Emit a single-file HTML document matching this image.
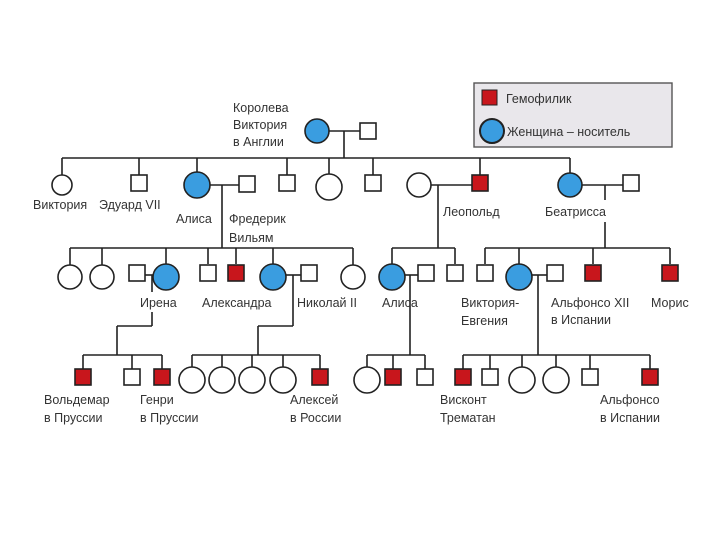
<!DOCTYPE html>
<html><head><meta charset="utf-8"><style>
html,body{margin:0;padding:0;background:#fff;width:720px;height:540px;overflow:hidden}
svg text{font-family:"Liberation Sans","DejaVu Sans",sans-serif;font-size:12.5px;fill:#333}
</style></head><body>
<svg width="720" height="540" viewBox="0 0 720 540" xmlns="http://www.w3.org/2000/svg">
<g stroke="#222" stroke-width="1.6" fill="none">
<line x1="329" y1="131" x2="360" y2="131"/>
<line x1="344" y1="131" x2="344" y2="158"/>
<line x1="62" y1="158" x2="570" y2="158"/>
<line x1="62" y1="158" x2="62" y2="175"/>
<line x1="139" y1="158" x2="139" y2="175"/>
<line x1="197" y1="158" x2="197" y2="172"/>
<line x1="287" y1="158" x2="287" y2="175"/>
<line x1="329" y1="158" x2="329" y2="174"/>
<line x1="373" y1="158" x2="373" y2="175"/>
<line x1="480" y1="158" x2="480" y2="175"/>
<line x1="570" y1="158" x2="570" y2="173"/>
<line x1="210" y1="185" x2="239" y2="185"/>
<line x1="222" y1="185" x2="222" y2="248"/>
<line x1="70" y1="248" x2="353" y2="248"/>
<line x1="431" y1="185" x2="472" y2="185"/>
<line x1="438" y1="185" x2="438" y2="248"/>
<line x1="392" y1="248" x2="455" y2="248"/>
<line x1="582" y1="185" x2="623" y2="185"/>
<line x1="605" y1="185" x2="605" y2="200"/>
<line x1="605" y1="222" x2="605" y2="248"/>
<line x1="485" y1="248" x2="670" y2="248"/>
<line x1="70" y1="248" x2="70" y2="265"/>
<line x1="102" y1="248" x2="102" y2="265"/>
<line x1="166" y1="248" x2="166" y2="264"/>
<line x1="208" y1="248" x2="208" y2="264"/>
<line x1="236" y1="248" x2="236" y2="264"/>
<line x1="273" y1="248" x2="273" y2="264"/>
<line x1="353" y1="248" x2="353" y2="265"/>
<line x1="392" y1="248" x2="392" y2="264"/>
<line x1="455" y1="248" x2="455" y2="264"/>
<line x1="485" y1="248" x2="485" y2="264"/>
<line x1="519" y1="248" x2="519" y2="264"/>
<line x1="593" y1="248" x2="593" y2="264"/>
<line x1="670" y1="248" x2="670" y2="264"/>
<line x1="145" y1="275" x2="153" y2="275"/>
<line x1="152" y1="275" x2="152" y2="292"/>
<line x1="152" y1="312" x2="152" y2="326"/>
<line x1="117" y1="326" x2="152" y2="326"/>
<line x1="117" y1="326" x2="117" y2="355"/>
<line x1="83" y1="355" x2="162" y2="355"/>
<line x1="286" y1="275" x2="301" y2="275"/>
<line x1="293" y1="275" x2="293" y2="326"/>
<line x1="258" y1="326" x2="293" y2="326"/>
<line x1="258" y1="326" x2="258" y2="355"/>
<line x1="192" y1="355" x2="320" y2="355"/>
<line x1="405" y1="275" x2="418" y2="275"/>
<line x1="410" y1="275" x2="410" y2="355"/>
<line x1="367" y1="355" x2="425" y2="355"/>
<line x1="532" y1="275" x2="547" y2="275"/>
<line x1="538" y1="275" x2="538" y2="355"/>
<line x1="463" y1="355" x2="650" y2="355"/>
<line x1="83" y1="355" x2="83" y2="369"/>
<line x1="132" y1="355" x2="132" y2="369"/>
<line x1="162" y1="355" x2="162" y2="369"/>
<line x1="192" y1="355" x2="192" y2="367"/>
<line x1="222" y1="355" x2="222" y2="367"/>
<line x1="252" y1="355" x2="252" y2="367"/>
<line x1="283" y1="355" x2="283" y2="367"/>
<line x1="320" y1="355" x2="320" y2="369"/>
<line x1="367" y1="355" x2="367" y2="367"/>
<line x1="393" y1="355" x2="393" y2="369"/>
<line x1="425" y1="355" x2="425" y2="369"/>
<line x1="463" y1="355" x2="463" y2="369"/>
<line x1="490" y1="355" x2="490" y2="369"/>
<line x1="522" y1="355" x2="522" y2="367"/>
<line x1="556" y1="355" x2="556" y2="367"/>
<line x1="590" y1="355" x2="590" y2="369"/>
<line x1="650" y1="355" x2="650" y2="369"/>
</g>
<g stroke="#222" stroke-width="1.6">
<circle cx="317" cy="131" r="12" fill="#3a9de0"/>
<rect x="360" y="123" width="16" height="16" fill="#fff"/>
<circle cx="62" cy="185" r="10" fill="#fff"/>
<rect x="131" y="175" width="16" height="16" fill="#fff"/>
<circle cx="197" cy="185" r="13" fill="#3a9de0"/>
<rect x="239" y="176" width="16" height="16" fill="#fff"/>
<rect x="279" y="175" width="16" height="16" fill="#fff"/>
<circle cx="329" cy="187" r="13" fill="#fff"/>
<rect x="365" y="175" width="16" height="16" fill="#fff"/>
<circle cx="419" cy="185" r="12" fill="#fff"/>
<rect x="472" y="175" width="16" height="16" fill="#c8161c"/>
<circle cx="570" cy="185" r="12" fill="#3a9de0"/>
<rect x="623" y="175" width="16" height="16" fill="#fff"/>
<circle cx="70" cy="277" r="12" fill="#fff"/>
<circle cx="102" cy="277" r="12" fill="#fff"/>
<rect x="129" y="265" width="16" height="16" fill="#fff"/>
<circle cx="166" cy="277" r="13" fill="#3a9de0"/>
<rect x="200" y="265" width="16" height="16" fill="#fff"/>
<rect x="228" y="265" width="16" height="16" fill="#c8161c"/>
<circle cx="273" cy="277" r="13" fill="#3a9de0"/>
<rect x="301" y="265" width="16" height="16" fill="#fff"/>
<circle cx="353" cy="277" r="12" fill="#fff"/>
<circle cx="392" cy="277" r="13" fill="#3a9de0"/>
<rect x="418" y="265" width="16" height="16" fill="#fff"/>
<rect x="447" y="265" width="16" height="16" fill="#fff"/>
<rect x="477" y="265" width="16" height="16" fill="#fff"/>
<circle cx="519" cy="277" r="13" fill="#3a9de0"/>
<rect x="547" y="265" width="16" height="16" fill="#fff"/>
<rect x="585" y="265" width="16" height="16" fill="#c8161c"/>
<rect x="662" y="265" width="16" height="16" fill="#c8161c"/>
<rect x="75" y="369" width="16" height="16" fill="#c8161c"/>
<rect x="124" y="369" width="16" height="16" fill="#fff"/>
<rect x="154" y="369" width="16" height="16" fill="#c8161c"/>
<circle cx="192" cy="380" r="13" fill="#fff"/>
<circle cx="222" cy="380" r="13" fill="#fff"/>
<circle cx="252" cy="380" r="13" fill="#fff"/>
<circle cx="283" cy="380" r="13" fill="#fff"/>
<rect x="312" y="369" width="16" height="16" fill="#c8161c"/>
<circle cx="367" cy="380" r="13" fill="#fff"/>
<rect x="385" y="369" width="16" height="16" fill="#c8161c"/>
<rect x="417" y="369" width="16" height="16" fill="#fff"/>
<rect x="455" y="369" width="16" height="16" fill="#c8161c"/>
<rect x="482" y="369" width="16" height="16" fill="#fff"/>
<circle cx="522" cy="380" r="13" fill="#fff"/>
<circle cx="556" cy="380" r="13" fill="#fff"/>
<rect x="582" y="369" width="16" height="16" fill="#fff"/>
<rect x="642" y="369" width="16" height="16" fill="#c8161c"/>
<rect x="474" y="83" width="198" height="64" fill="#e9e7eb" stroke="#555" stroke-width="1.4"/>
<rect x="482" y="90" width="15" height="15" fill="#c8161c" stroke-width="1"/>
<circle cx="492" cy="131" r="12" fill="#3a9de0" stroke-width="2"/>
</g>
<g>
<text x="506" y="103" font-size="13">Гемофилик</text>
<text x="507" y="136" font-size="13">Женщина – носитель</text>
<text x="233" y="112">Королева</text>
<text x="233" y="129">Виктория</text>
<text x="233" y="146">в Англии</text>
<text x="33" y="209">Виктория</text>
<text x="99" y="209">Эдуард VII</text>
<text x="176" y="223">Алиса</text>
<text x="229" y="223">Фредерик</text>
<text x="229" y="242">Вильям</text>
<text x="443" y="216">Леопольд</text>
<text x="545" y="216">Беатрисса</text>
<text x="140" y="307">Ирена</text>
<text x="202" y="307">Александра</text>
<text x="297" y="307">Николай II</text>
<text x="382" y="307" font-size="13.5">Алиса</text>
<text x="461" y="307">Виктория-</text>
<text x="461" y="325">Евгения</text>
<text x="551" y="307">Альфонсо XII</text>
<text x="551" y="324">в Испании</text>
<text x="651" y="307">Морис</text>
<text x="44" y="404">Вольдемар</text>
<text x="44" y="422">в Пруссии</text>
<text x="140" y="404">Генри</text>
<text x="140" y="422">в Пруссии</text>
<text x="290" y="404">Алексей</text>
<text x="290" y="422">в России</text>
<text x="440" y="404">Висконт</text>
<text x="440" y="422">Трематан</text>
<text x="600" y="404">Альфонсо</text>
<text x="600" y="422">в Испании</text>
</g>
</svg>
</body></html>
